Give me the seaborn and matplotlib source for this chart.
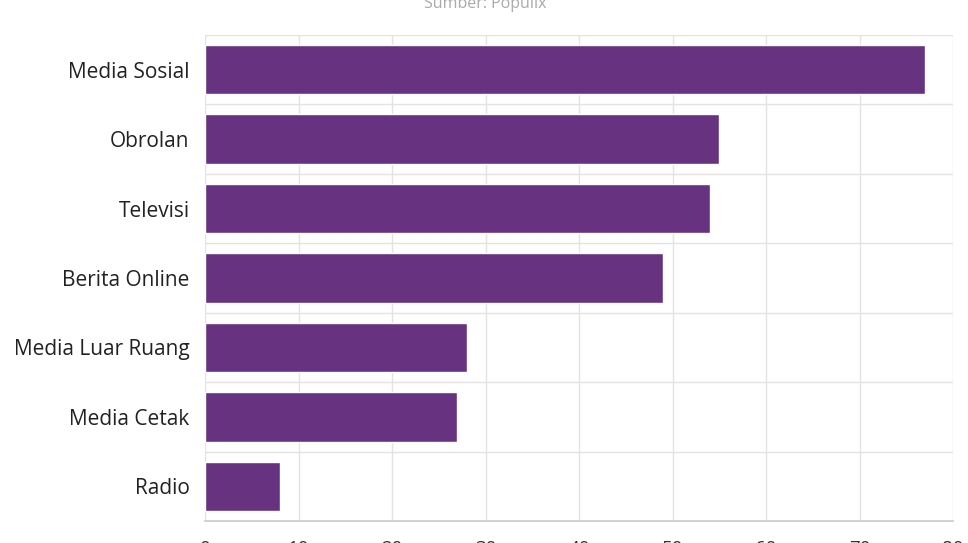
import numpy as np
import pandas as pd
import matplotlib.pyplot as plt
import seaborn as sns

# sumber informasi (persen responden)
categories = ['Media Sosial', 'Obrolan', 'Televisi', 'Berita Online',
              'Media Luar Ruang', 'Media Cetak', 'Radio']
values = [77, 55, 54, 49, 28, 27, 8]
xticks = [0, 10, 20, 30, 40, 50, 60, 70, 80]

df = pd.DataFrame({'sumber': categories, 'persen': values})

sns.set_theme(style='white')
plt.rcParams['font.family'] = ['Open Sans', 'DejaVu Sans']

fig = plt.figure(figsize=(9.68, 5.43), dpi=100)
ax = fig.add_axes([205 / 968, 22 / 543, 748 / 968, 486 / 543])

sns.barplot(data=df, x='persen', y='sumber', orient='h', color='#67327f',
            width=0.71, saturation=1, ax=ax, zorder=3)

ax.set_xlim(0, 80)
ax.set_ylim(len(categories) - 0.5, -0.5)
ax.set_xticks(xticks)
ax.set_yticks(np.arange(-0.5, len(categories), 1), minor=True)
ax.grid(True, which='major', axis='x', color='#e3e3e3', lw=1, zorder=0)
ax.grid(True, which='minor', axis='y', color='#e3e3e3', lw=1, zorder=0)
ax.set_xlabel('')
ax.set_ylabel('')

for s in ['top', 'right', 'left']:
    ax.spines[s].set_visible(False)
ax.spines['bottom'].set_color('#cccccc')
ax.spines['bottom'].set_linestyle((0, (1, 1)))

ax.tick_params(axis='x', length=5, color='#e3e3e3', pad=9, labelsize=13.5, labelcolor='#333333')
ax.tick_params(axis='y', which='both', length=0, pad=11, labelsize=15, labelcolor='#222222')

fig.text(485 / 968, 1 - 4 / 543, 'Sumber: Populix', ha='center', va='center',
         fontsize=11.5, color='#aaaaaa')

fig.savefig('out.png', dpi=100)
